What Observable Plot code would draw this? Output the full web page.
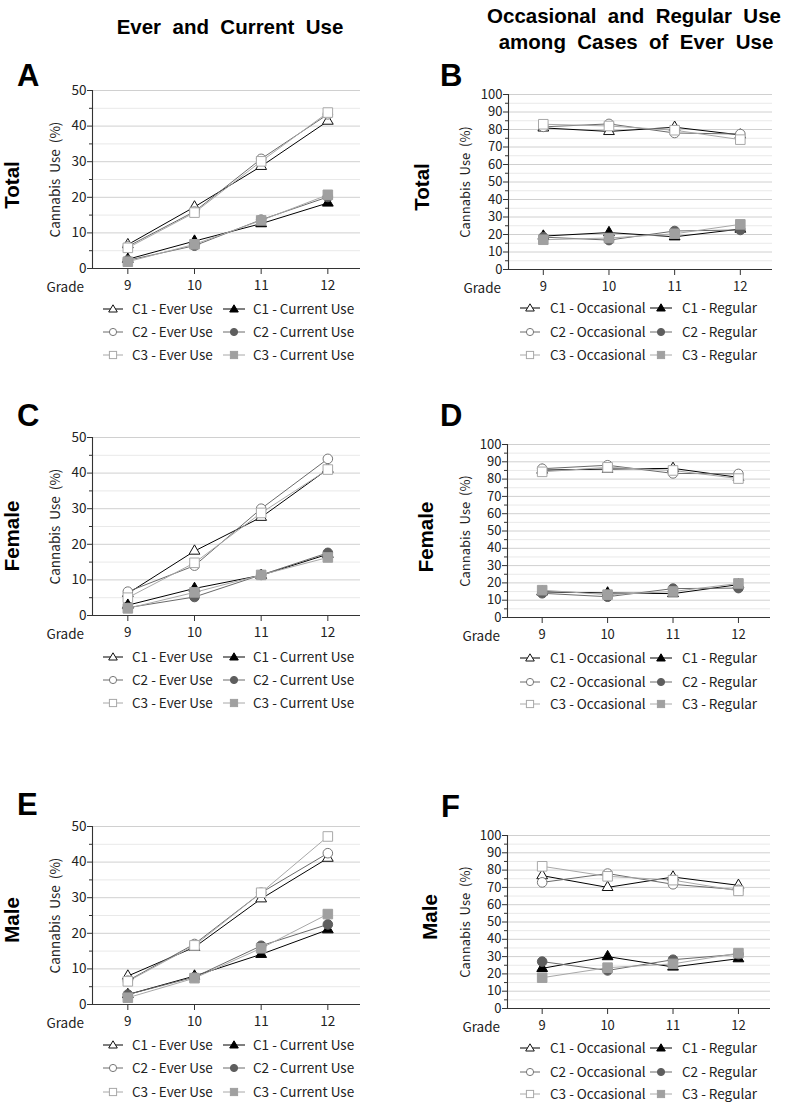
<!DOCTYPE html>
<html><head><meta charset="utf-8">
<script src="https://cdn.jsdelivr.net/npm/d3@7"></script>
<script src="https://cdn.jsdelivr.net/npm/@observablehq/plot@0.6"></script>
<style>
body{margin:0;background:#fff;}
#root{position:relative;width:787px;height:1102px;overflow:hidden;background:#fff;}
#root > div.p{position:absolute;}
#ann{position:absolute;left:0;top:0;pointer-events:none;}
</style></head><body><div id="root"></div>
<script>
// ---------- data ----------
const grades = [9, 10, 11, 12];
const cohorts = ["C1", "C2", "C3"];
const yLabel = "Cannabis\u00a0\u00a0Use\u00a0\u00a0(%)";
const colTitleLeft = "Ever  and  Current  Use";
const colTitleRight1 = "Occasional  and  Regular  Use";
const colTitleRight2 = "among  Cases  of  Ever  Use";
const rowLabels = ["Total", "Female", "Male"];
const panelLetters = ["A", "B", "C", "D", "E", "F"];
const legendLeftA = ["C1 - Ever Use", "C2 - Ever Use", "C3 - Ever Use"];
const legendLeftB = ["C1 - Current Use", "C2 - Current Use", "C3 - Current Use"];
const legendRightA = ["C1 - Occasional", "C2 - Occasional", "C3 - Occasional"];
const legendRightB = ["C1 - Regular", "C2 - Regular", "C3 - Regular"];

// Panel A: Total, ever / current use (%)
const totalEverC1 = [6.7, 17.3, 28.7, 41.4];
const totalEverC2 = [6.2, 16.0, 30.8, 43.3];
const totalEverC3 = [5.8, 15.7, 30.1, 43.8];
const totalCurC1 = [2.6, 7.7, 12.6, 18.4];
const totalCurC2 = [2.3, 6.4, 13.7, 20.1];
const totalCurC3 = [1.9, 6.8, 13.5, 20.7];
// Panel B: Total, occasional / regular among ever users (%)
const totalOccC1 = [80.9, 78.9, 81.3, 76.9];
const totalOccC2 = [81.5, 83.2, 78.0, 77.4];
const totalOccC3 = [83.0, 82.0, 79.6, 74.2];
const totalRegC1 = [19.1, 21.1, 18.7, 23.1];
const totalRegC2 = [18.5, 16.8, 22.0, 22.6];
const totalRegC3 = [17.0, 18.0, 20.4, 25.8];
// Panel C: Female, ever / current
const femEverC1 = [6.2, 18.1, 27.6, 41.1];
const femEverC2 = [6.7, 14.0, 30.0, 44.0];
const femEverC3 = [5.0, 14.8, 28.8, 41.0];
const femCurC1 = [2.9, 7.6, 11.3, 17.2];
const femCurC2 = [2.2, 5.2, 11.4, 17.6];
const femCurC3 = [2.0, 6.5, 11.4, 16.3];
// Panel D: Female, occasional / regular
const femOccC1 = [85.2, 85.8, 86.2, 81.0];
const femOccC2 = [86.0, 88.0, 83.3, 83.0];
const femOccC3 = [84.2, 86.8, 85.0, 80.3];
const femRegC1 = [14.8, 14.2, 13.8, 19.0];
const femRegC2 = [14.0, 12.0, 16.7, 17.0];
const femRegC3 = [15.8, 13.2, 15.0, 19.7];
// Panel E: Male, ever / current
const maleEverC1 = [8.0, 16.1, 29.7, 41.1];
const maleEverC2 = [6.7, 17.0, 31.4, 42.5];
const maleEverC3 = [6.5, 16.6, 31.4, 47.2];
const maleCurC1 = [2.8, 8.0, 14.1, 21.0];
const maleCurC2 = [2.8, 7.7, 16.5, 22.5];
const maleCurC3 = [1.9, 7.4, 15.8, 25.4];
// Panel F: Male, occasional / regular
const maleOccC1 = [76.8, 70.0, 76.0, 71.2];
const maleOccC2 = [72.9, 78.0, 71.8, 68.6];
const maleOccC3 = [82.2, 76.4, 74.2, 68.0];
const maleRegC1 = [23.2, 30.0, 24.0, 28.8];
const maleRegC2 = [27.1, 22.0, 28.2, 31.4];
const maleRegC3 = [17.8, 23.6, 25.8, 32.0];

// ---------- styles ----------
const lineColor = {C1: "#000000", C2: "#6a6a6a", C3: "#a8a8a8"};
const fillColor = {C1: "#000000", C2: "#5e5e5e", C3: "#a0a0a0"};
const hollowStroke = {C1: "#111111", C2: "#777777", C3: "#a8a8a8"};
const symbolOf = {C1: "triangle", C2: "circle", C3: "square"};
const rOf = {C1: 4.0, C2: 4.8, C3: 5.4};
const FONT = "'Noto Sans CJK KR', 'Noto Sans', sans-serif";
const root = document.getElementById("root");

function toRows(values) { return grades.map((g, i) => ({grade: g, value: values[i]})); }

function panel(cfg) {
  const {left, width, axisX, rightX, yTop, y0, ymax, hollow, filled, fontSize, labelOffset} = cfg;
  const mt = 22, mb = 36;
  const height = (y0 - yTop) + mt + mb;
  const majors = d3.range(0, ymax + 1, 10);
  const minors = d3.range(5, ymax, 10);
  const xdom = [8.47, 12.49];
  const marks = [
    Plot.ruleY(minors, {stroke: "#e9e9e9", strokeWidth: 1}),
    Plot.ruleY(majors.filter(d => d > 0), {stroke: "#d0d0d0", strokeWidth: 1}),
    Plot.axisY(minors, {tickSize: 3, tickFormat: () => "", label: null, stroke: "#333"}),
    Plot.axisY(majors, {tickSize: 5, tickPadding: 1, fontSize, label: yLabel, labelAnchor: "center", labelOffset, labelArrow: "none", stroke: "#333", fill: "#222"}),
    Plot.axisX(grades, {tickSize: 6, tickPadding: 6, fontSize, label: null, stroke: "#333", fill: "#222"}),
    Plot.ruleX([xdom[0]], {stroke: "#333", strokeWidth: 1.1}),
    Plot.ruleY([0], {stroke: "#333", strokeWidth: 1.1})
  ];
  const groups = [["hollow", hollow], ["filled", filled]];
  for (const [kind, arrs] of groups) {
    cohorts.forEach((c, i) => {
      const rows = toRows(arrs[i]);
      marks.push(Plot.line(rows, {x: "grade", y: "value", stroke: lineColor[c], strokeWidth: 1}));
    });
  }
  for (const [kind, arrs] of groups) {
    cohorts.forEach((c, i) => {
      const rows = toRows(arrs[i]);
      marks.push(Plot.dot(rows, {
        x: "grade", y: "value", symbol: symbolOf[c], r: rOf[c],
        stroke: kind === "hollow" ? hollowStroke[c] : fillColor[c],
        fill: kind === "hollow" ? "#fff" : fillColor[c],
        strokeWidth: 1
      }));
    });
  }
  const svg = Plot.plot({
    width, height,
    marginLeft: axisX - left, marginRight: left + width - rightX,
    marginTop: mt, marginBottom: mb,
    x: {domain: xdom},
    y: {domain: [0, ymax]},
    style: {fontFamily: FONT, fontSize: fontSize + "px", background: "transparent", color: "#222", overflow: "visible", whiteSpace: "pre"},
    marks
  });
  const wrap = document.createElement("div");
  wrap.className = "p";
  wrap.style.left = left + "px";
  wrap.style.top = (yTop - mt) + "px";
  wrap.appendChild(svg);
  root.appendChild(wrap);
}

panel({left: 0, width: 390, axisX: 92, rightX: 360, yTop: 90, y0: 268, ymax: 50, fontSize: 13.5, labelOffset: 42,
  hollow: [totalEverC1, totalEverC2, totalEverC3], filled: [totalCurC1, totalCurC2, totalCurC3]});
panel({left: 400, width: 387, axisX: 508, rightX: 772, yTop: 94, y0: 269, ymax: 100, fontSize: 13, labelOffset: 48,
  hollow: [totalOccC1, totalOccC2, totalOccC3], filled: [totalRegC1, totalRegC2, totalRegC3]});
panel({left: 0, width: 390, axisX: 92, rightX: 360, yTop: 437, y0: 615, ymax: 50, fontSize: 13.5, labelOffset: 42,
  hollow: [femEverC1, femEverC2, femEverC3], filled: [femCurC1, femCurC2, femCurC3]});
panel({left: 400, width: 387, axisX: 507, rightX: 770, yTop: 444, y0: 617, ymax: 100, fontSize: 13, labelOffset: 47,
  hollow: [femOccC1, femOccC2, femOccC3], filled: [femRegC1, femRegC2, femRegC3]});
panel({left: 0, width: 390, axisX: 92, rightX: 360, yTop: 826, y0: 1004, ymax: 50, fontSize: 13.5, labelOffset: 42,
  hollow: [maleEverC1, maleEverC2, maleEverC3], filled: [maleCurC1, maleCurC2, maleCurC3]});
panel({left: 400, width: 387, axisX: 507, rightX: 770, yTop: 835, y0: 1008, ymax: 100, fontSize: 13, labelOffset: 47,
  hollow: [maleOccC1, maleOccC2, maleOccC3], filled: [maleRegC1, maleRegC2, maleRegC3]});

// ---------- annotations (titles, letters, row labels, legends) ----------
const NS = "http://www.w3.org/2000/svg";
const ann = document.createElementNS(NS, "svg");
ann.setAttribute("id", "ann");
ann.setAttribute("width", 787);
ann.setAttribute("height", 1102);
root.appendChild(ann);
function el(tag, attrs, text) {
  const e = document.createElementNS(NS, tag);
  for (const k in attrs) e.setAttribute(k, attrs[k]);
  if (text != null) e.textContent = text;
  ann.appendChild(e);
  return e;
}
const BOLD = "'Liberation Sans', Arial, sans-serif";
el("text", {x: 230, y: 34, "text-anchor": "middle", "font-family": BOLD, "font-weight": 700, "font-size": 20.5, fill: "#000", style: "white-space:pre"}, colTitleLeft);
el("text", {x: 634, y: 23, "text-anchor": "middle", "font-family": BOLD, "font-weight": 700, "font-size": 20.5, fill: "#000", style: "white-space:pre"}, colTitleRight1);
el("text", {x: 636, y: 49, "text-anchor": "middle", "font-family": BOLD, "font-weight": 700, "font-size": 20.5, fill: "#000", style: "white-space:pre"}, colTitleRight2);

const letterPos = [[17, 86], [440, 86], [17, 426], [440, 426], [17, 815], [441, 817]];
panelLetters.forEach((L, i) => el("text", {x: letterPos[i][0], y: letterPos[i][1], "font-family": BOLD, "font-weight": 700, "font-size": 31, fill: "#000"}, L));

const rowPos = [[[19, 185], [429, 187]], [[19, 536], [433, 537]], [[19, 920], [437, 917]]];
rowLabels.forEach((t, i) => rowPos[i].forEach(([x, y]) =>
  el("text", {transform: `translate(${x},${y}) rotate(-90)`, "text-anchor": "middle", "font-family": BOLD, "font-weight": 700, "font-size": 20.5, fill: "#000"}, t)));

// "Grade" labels
[[84, 287], [501, 288], [84, 634], [500, 636], [84, 1023], [500, 1027]].forEach(([x, y]) =>
  el("text", {x, y: y + 4.8, "text-anchor": "end", "font-family": FONT, "font-size": 13.5, fill: "#222"}, "Grade"));

function legendMarker(x1, x2, y, c, hollow) {
  el("line", {x1, x2, y1: y, y2: y, stroke: lineColor[c], "stroke-width": 1});
  const cx = (x1 + x2) / 2;
  const fill = hollow ? "#fff" : fillColor[c];
  const stroke = hollow ? hollowStroke[c] : fillColor[c];
  if (c === "C1") el("path", {d: `M${cx},${y - 4.2}L${cx + 4.3},${y + 3}L${cx - 4.3},${y + 3}Z`, fill, stroke, "stroke-width": 1});
  else if (c === "C2") el("circle", {cx, cy: y, r: 3.6, fill, stroke, "stroke-width": 1});
  else el("rect", {x: cx - 3.6, y: y - 3.6, width: 7.2, height: 7.2, fill, stroke, "stroke-width": 1});
}
function legend(rows, m1, t1, m2, t2, labels1, labels2) {
  cohorts.forEach((c, i) => {
    const y = rows[i];
    legendMarker(m1[0], m1[1], y, c, true);
    el("text", {x: t1, y: y + 4.8, "font-family": FONT, "font-size": 13.5, fill: "#222"}, labels1[i]);
    legendMarker(m2[0], m2[1], y, c, false);
    el("text", {x: t2, y: y + 4.8, "font-family": FONT, "font-size": 13.5, fill: "#222"}, labels2[i]);
  });
}
legend([309, 332, 355], [103, 123], 132, [223, 245], 253, legendLeftA, legendLeftB);
legend([657, 680, 703], [103, 123], 132, [223, 245], 253, legendLeftA, legendLeftB);
legend([1045, 1068, 1092], [103, 123], 132, [223, 245], 253, legendLeftA, legendLeftB);
legend([308, 332, 355], [520, 540], 550, [650, 672], 682, legendRightA, legendRightB);
legend([658, 682, 704], [520, 540], 550, [650, 672], 682, legendRightA, legendRightB);
legend([1048, 1072, 1094], [520, 540], 550, [650, 672], 682, legendRightA, legendRightB);
</script></body></html>
